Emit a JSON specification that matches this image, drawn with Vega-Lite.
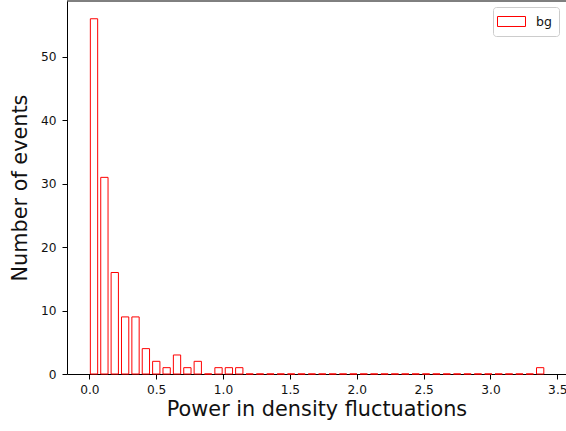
{
  "$schema": "https://vega.github.io/schema/vega-lite/v6.json",
  "width": 499,
  "height": 373,
  "autosize": "none",
  "padding": {"left": 67, "top": 1, "right": 0, "bottom": 57},
  "config": {
    "view": {"stroke": null},
    "font": "DejaVu Sans",
    "axis": {
      "domainColor": "black",
      "domainWidth": 1,
      "tickColor": "black",
      "tickSize": 5,
      "tickWidth": 1,
      "grid": false,
      "labelFont": "DejaVu Sans",
      "labelFontSize": 12.2,
      "labelColor": "#111111",
      "titleFont": "DejaVu Sans",
      "titleFontSize": 20.8,
      "titleFontWeight": "normal",
      "titleColor": "#111111"
    }
  },
  "layer": [
    {
      "data": {
        "values": [
          {"power": 0.035, "count": 56, "series": "bg"},
          {"power": 0.1126, "count": 31, "series": "bg"},
          {"power": 0.1902, "count": 16, "series": "bg"},
          {"power": 0.2678, "count": 9, "series": "bg"},
          {"power": 0.3454, "count": 9, "series": "bg"},
          {"power": 0.423, "count": 4, "series": "bg"},
          {"power": 0.5006, "count": 2, "series": "bg"},
          {"power": 0.5782, "count": 1, "series": "bg"},
          {"power": 0.6558, "count": 3, "series": "bg"},
          {"power": 0.7334, "count": 1, "series": "bg"},
          {"power": 0.811, "count": 2, "series": "bg"},
          {"power": 0.8886, "count": 0, "series": "bg"},
          {"power": 0.9662, "count": 1, "series": "bg"},
          {"power": 1.0438, "count": 1, "series": "bg"},
          {"power": 1.1214, "count": 1, "series": "bg"},
          {"power": 1.199, "count": 0, "series": "bg"},
          {"power": 1.2766, "count": 0, "series": "bg"},
          {"power": 1.3542, "count": 0, "series": "bg"},
          {"power": 1.4318, "count": 0, "series": "bg"},
          {"power": 1.5094, "count": 0, "series": "bg"},
          {"power": 1.587, "count": 0, "series": "bg"},
          {"power": 1.6646, "count": 0, "series": "bg"},
          {"power": 1.7422, "count": 0, "series": "bg"},
          {"power": 1.8198, "count": 0, "series": "bg"},
          {"power": 1.8974, "count": 0, "series": "bg"},
          {"power": 1.975, "count": 0, "series": "bg"},
          {"power": 2.0526, "count": 0, "series": "bg"},
          {"power": 2.1302, "count": 0, "series": "bg"},
          {"power": 2.2078, "count": 0, "series": "bg"},
          {"power": 2.2854, "count": 0, "series": "bg"},
          {"power": 2.363, "count": 0, "series": "bg"},
          {"power": 2.4406, "count": 0, "series": "bg"},
          {"power": 2.5182, "count": 0, "series": "bg"},
          {"power": 2.5958, "count": 0, "series": "bg"},
          {"power": 2.6734, "count": 0, "series": "bg"},
          {"power": 2.751, "count": 0, "series": "bg"},
          {"power": 2.8286, "count": 0, "series": "bg"},
          {"power": 2.9062, "count": 0, "series": "bg"},
          {"power": 2.9838, "count": 0, "series": "bg"},
          {"power": 3.0614, "count": 0, "series": "bg"},
          {"power": 3.139, "count": 0, "series": "bg"},
          {"power": 3.2166, "count": 0, "series": "bg"},
          {"power": 3.2942, "count": 0, "series": "bg"},
          {"power": 3.3718, "count": 1, "series": "bg"}
        ]
      },
      "mark": {"type": "bar", "width": 7.3, "fill": "white", "strokeWidth": 1, "orient": "vertical"},
      "encoding": {
        "x": {
          "field": "power",
          "type": "quantitative",
          "scale": {"domain": [-0.167, 3.565], "nice": false, "zero": false, "padding": 0},
          "axis": {"title": "Power in density fluctuations", "values": [0, 0.5, 1, 1.5, 2, 2.5, 3, 3.5], "format": ".1f", "labelPadding": 4, "titlePadding": 4}
        },
        "y": {
          "field": "count",
          "type": "quantitative",
          "scale": {"domain": [0, 58.8], "nice": false},
          "axis": {"title": "Number of events", "values": [0, 10, 20, 30, 40, 50], "labelPadding": 6, "titlePadding": 10}
        },
        "stroke": {
          "field": "series",
          "type": "nominal",
          "scale": {"range": ["#ff0000"]},
          "legend": {
            "title": null,
            "orient": "none",
            "legendX": 426,
            "legendY": 6,
            "symbolType": "M-2,-0.714H2V0.714H-2Z",
            "symbolSize": 196,
            "symbolStrokeWidth": 1,
            "symbolFillColor": "white",
            "symbolOffset": 4,
            "labelFont": "DejaVu Sans",
            "labelFontSize": 12.5,
            "labelColor": "#111111",
            "labelOffset": 17,
            "fillColor": "white",
            "strokeColor": "#cccccc",
            "cornerRadius": 3,
            "padding": 7
          }
        }
      }
    },
    {
      "data": {"values": [{"top": 58.8}]},
      "mark": {"type": "rule", "color": "black", "strokeWidth": 1},
      "encoding": {"y": {"field": "top", "type": "quantitative"}}
    }
  ]
}
